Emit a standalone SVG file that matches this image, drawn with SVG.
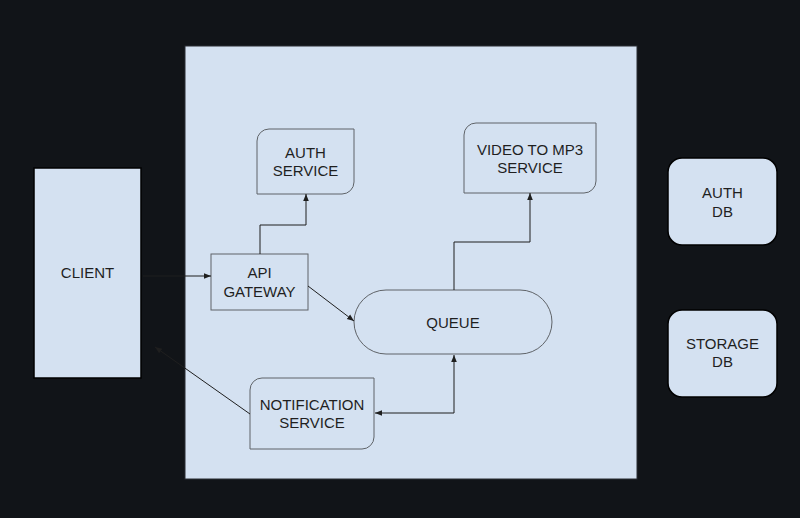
<svg xmlns="http://www.w3.org/2000/svg" width="800" height="518" viewBox="0 0 800 518">
<defs>
<style>
.node{fill:#d4e1f1;stroke:#5f6368;stroke-width:1}
.dark{fill:#d4e1f1;stroke:#000;stroke-width:1.5}
.t{font-family:"Liberation Sans",Arial,sans-serif;font-size:15px;fill:#1f1f1f;text-anchor:middle}
.c{fill:none;stroke:#1f1f1f;stroke-width:1}
</style>
<marker id="ah" viewBox="0 0 10 10" refX="10" refY="5" markerWidth="7" markerHeight="7" orient="auto-start-reverse" markerUnits="userSpaceOnUse">
<path d="M0,1 L10,5 L0,9 z" fill="#1f1f1f"/>
</marker>
</defs>
<rect width="800" height="518" fill="#111418"/>
<rect id="panel" x="185" y="46" width="452" height="433" fill="#d4e1f1" stroke="#2a2d33" stroke-width="1"/>
<g id="client">
<rect class="dark" x="34" y="168" width="107" height="210"/>
<text class="t" x="87.5" y="278">CLIENT</text>
</g>
<g id="api-gateway">
<rect class="node" x="211" y="254" width="97" height="56"/>
<text class="t" x="259.5" y="278">API</text>
<text class="t" x="259.5" y="297">GATEWAY</text>
</g>
<g id="auth-service">
<path class="node" d="M269,129 H354 V182 A12,12 0 0 1 342,194 H257 V141 A12,12 0 0 1 269,129 Z"/>
<text class="t" x="305.5" y="158">AUTH</text>
<text class="t" x="305.5" y="176">SERVICE</text>
</g>
<g id="video-to-mp3">
<path class="node" d="M476,123 H596 V181 A12,12 0 0 1 584,193 H464 V135 A12,12 0 0 1 476,123 Z"/>
<text class="t" x="530" y="155">VIDEO TO MP3</text>
<text class="t" x="530" y="173">SERVICE</text>
</g>
<g id="queue">
<rect class="node" x="354" y="290" width="198" height="64" rx="32" ry="32"/>
<text class="t" x="453" y="328">QUEUE</text>
</g>
<g id="notification-service">
<path class="node" d="M262,378 H374 V437 A12,12 0 0 1 362,449 H250 V390 A12,12 0 0 1 262,378 Z"/>
<text class="t" x="312" y="410">NOTIFICATION</text>
<text class="t" x="312" y="428">SERVICE</text>
</g>
<g id="auth-db">
<rect class="dark" x="668" y="158" width="109" height="87" rx="14" ry="14"/>
<text class="t" x="722.5" y="198">AUTH</text>
<text class="t" x="722.5" y="217">DB</text>
</g>
<g id="storage-db">
<rect class="dark" x="668" y="310" width="109" height="87" rx="14" ry="14"/>
<text class="t" x="722.5" y="349">STORAGE</text>
<text class="t" x="722.5" y="367">DB</text>
</g>
<g id="connectors">
<path class="c" d="M143,276 H211" marker-end="url(#ah)"/>
<path class="c" d="M260,254 V225 H306 V194" marker-end="url(#ah)"/>
<path class="c" d="M308,286 L354,321" marker-end="url(#ah)"/>
<path class="c" d="M454,290 V242 H530 V193" marker-end="url(#ah)"/>
<path class="c" d="M454,355 V413 H375" marker-start="url(#ah)" marker-end="url(#ah)"/>
<path class="c" d="M250,414 L155,347" marker-end="url(#ah)"/>
</g>
</svg>
